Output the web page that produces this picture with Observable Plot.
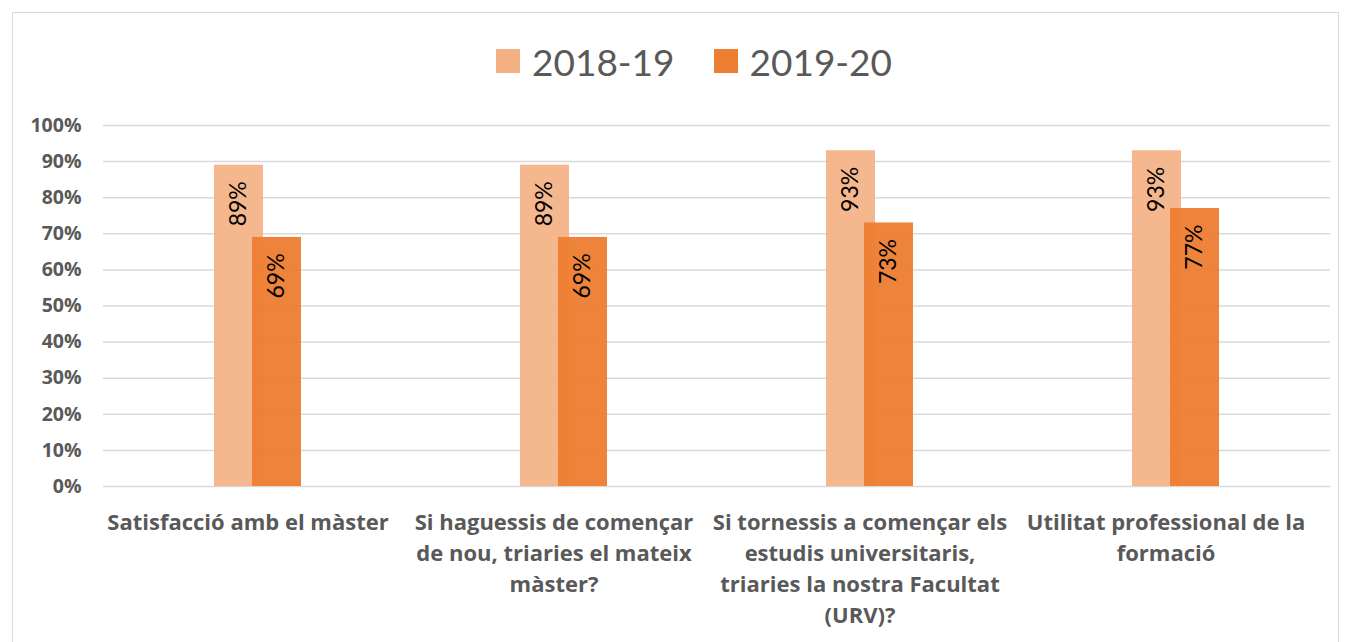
<!DOCTYPE html>
<html>
<head>
<meta charset="utf-8">
<script src="https://cdn.jsdelivr.net/npm/d3@7"></script>
<script src="https://cdn.jsdelivr.net/npm/@observablehq/plot@0.6"></script>
<style>
  html, body { margin: 0; padding: 0; background: #fff; overflow: hidden; }
  body { width: 1349px; height: 642px; position: relative; font-family: Lato, "Open Sans", sans-serif; }
  #frame { position: absolute; left: 12px; top: 12px; width: 1327px; height: 660px; border: 1px solid #d9d9d9; box-sizing: border-box; }
  #legend { position: absolute; left: 496px; top: 36px; height: 50px; display: flex; align-items: center; font-size: 37px; color: #595959; }
  #legend .sw { width: 24px; height: 24px; display: inline-block; margin-right: 12px; }
  #legend .item { display: flex; align-items: center; margin-right: 39px; }
  #chart { position: absolute; left: 0; top: 100px; }
</style>
</head>
<body>
<div id="frame"></div>
<div id="legend"></div>
<div id="chart"></div>
<script>
const categories = [
  "Satisfacció amb el màster",
  "Si haguessis de començar\nde nou, triaries el mateix\nmàster?",
  "Si tornessis a començar els\nestudis universitaris,\ntriaries la nostra Facultat\n(URV)?",
  "Utilitat professional de la\nformació"
];
const seriesNames = ["2018-19", "2019-20"];
const values2018 = [89, 89, 93, 93];
const values2019 = [69, 69, 73, 77];
const yTicks = [0, 10, 20, 30, 40, 50, 60, 70, 80, 90, 100];
const colors = ["#F4B183", "#ED7D31"];

const legend = document.getElementById("legend");
seriesNames.forEach((s, i) => {
  const it = document.createElement("div");
  it.className = "item";
  it.innerHTML = `<span class="sw" style="background:${colors[i]}"></span><span>${s}</span>`;
  legend.appendChild(it);
});

const d18 = categories.map((c, i) => ({cat: c, v: values2018[i]}));
const d19 = categories.map((c, i) => ({cat: c, v: values2019[i]}));

const chart = Plot.plot({
  width: 1349,
  height: 542,
  marginLeft: 103,
  marginRight: 19,
  marginTop: 25,
  marginBottom: 156,
  style: {fontFamily: "Lato, 'Open Sans', sans-serif", background: "transparent"},
  x: {domain: categories, paddingInner: 0.84, paddingOuter: 0.42, label: null},
  y: {domain: [0, 100], label: null},
  marks: [
    Plot.gridY(yTicks, {stroke: "#d9d9d9", strokeWidth: 1.5, strokeOpacity: 1}),
    Plot.barY(d18, {x: "cat", y: "v", fill: colors[0], fillOpacity: 0.92, dx: -19}),
    Plot.barY(d19, {x: "cat", y: "v", fill: colors[1], fillOpacity: 0.95, dx: 19}),
    Plot.text(d18, {x: "cat", y: "v", text: d => d.v + "%", rotate: -90, textAnchor: "end", dx: -19, dy: 16, fontSize: 23, fill: "#000"}),
    Plot.text(d19, {x: "cat", y: "v", text: d => d.v + "%", rotate: -90, textAnchor: "end", dx: 19, dy: 16, fontSize: 23, fill: "#000"}),
    Plot.axisY({ticks: yTicks, tickFormat: d => d + "%", tickSize: 0, tickPadding: 22, fontSize: 19.5, fontWeight: "bold", fill: "#595959", fontFamily: "'Open Sans', sans-serif", label: null}),
    Plot.axisX({tickSize: 0, tickPadding: 22, fontSize: 22, fontWeight: "bold", fill: "#595959", fontFamily: "'Open Sans', sans-serif", lineHeight: 1.4, dx: -10, label: null, textOverflow: null})
  ]
});
document.getElementById("chart").appendChild(chart);
</script>
</body>
</html>
